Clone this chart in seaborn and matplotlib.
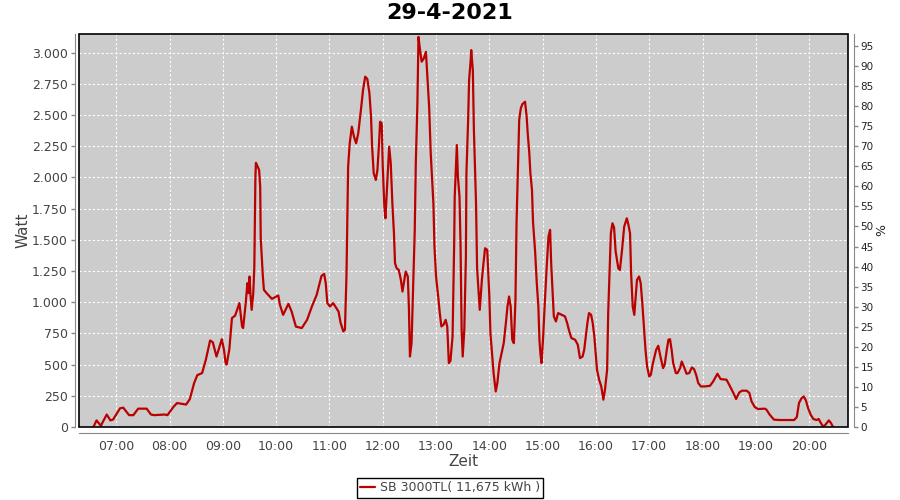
import pandas as pd
import matplotlib
matplotlib.use("Agg")
import matplotlib.pyplot as plt
import matplotlib.ticker as mticker
from matplotlib.patches import Rectangle
import seaborn as sns

# Zeit in Stunden (dezimal), Leistung in Watt
hours = [
    6.57, 6.63, 6.71, 6.82, 6.89, 6.94, 7.07, 7.13, 7.24, 7.32, 7.41, 7.57, 7.65, 7.71, 7.91, 7.96,
    8.07, 8.14, 8.31, 8.38, 8.46, 8.52, 8.61, 8.68, 8.76, 8.81, 8.88, 8.98, 9.02, 9.05, 9.07, 9.12,
    9.17, 9.23, 9.31, 9.36, 9.38, 9.43, 9.46, 9.48, 9.50, 9.52, 9.54, 9.57, 9.59, 9.61, 9.62, 9.65,
    9.68, 9.70, 9.71, 9.75, 9.77, 9.82, 9.92, 10.04, 10.07, 10.13, 10.23, 10.29, 10.37, 10.48, 10.58,
    10.67, 10.76, 10.85, 10.90, 10.93, 10.96, 11.01, 11.07, 11.17, 11.21, 11.26, 11.29, 11.32, 11.35,
    11.38, 11.42, 11.46, 11.50, 11.54, 11.59, 11.63, 11.67, 11.71, 11.75, 11.78, 11.80, 11.83, 11.87,
    11.90, 11.93, 11.95, 11.98, 12.00, 12.03, 12.05, 12.08, 12.12, 12.15, 12.18, 12.21, 12.23, 12.26,
    12.30, 12.34, 12.37, 12.43, 12.47, 12.49, 12.51, 12.54, 12.57, 12.60, 12.62, 12.65, 12.67, 12.70,
    12.73, 12.77, 12.81, 12.83, 12.87, 12.90, 12.95, 12.97, 13.00, 13.04, 13.07, 13.10, 13.14, 13.18,
    13.21, 13.24, 13.27, 13.31, 13.34, 13.35, 13.39, 13.41, 13.44, 13.46, 13.48, 13.50, 13.53, 13.56,
    13.57, 13.60, 13.62, 13.65, 13.66, 13.69, 13.71, 13.73, 13.75, 13.77, 13.80, 13.82, 13.86, 13.89,
    13.92, 13.96, 14.00, 14.02, 14.05, 14.08, 14.12, 14.15, 14.19, 14.23, 14.27, 14.31, 14.34, 14.37,
    14.40, 14.43, 14.46, 14.49, 14.51, 14.53, 14.56, 14.59, 14.62, 14.67, 14.70, 14.72, 14.75, 14.77,
    14.80, 14.82, 14.86, 14.89, 14.92, 14.94, 14.96, 14.98, 15.01, 15.04, 15.08, 15.11, 15.14, 15.16,
    15.19, 15.21, 15.25, 15.29, 15.36, 15.42, 15.46, 15.50, 15.54, 15.61, 15.66, 15.70, 15.75, 15.78,
    15.81, 15.84, 15.87, 15.91, 15.94, 15.97, 16.00, 16.02, 16.06, 16.10, 16.14, 16.17, 16.21, 16.23,
    16.26, 16.28, 16.31, 16.34, 16.37, 16.42, 16.45, 16.49, 16.53, 16.58, 16.61, 16.64, 16.66, 16.69,
    16.72, 16.75, 16.77, 16.81, 16.84, 16.87, 16.90, 16.93, 16.96, 17.00, 17.03, 17.07, 17.13, 17.17,
    17.21, 17.26, 17.29, 17.33, 17.36, 17.39, 17.42, 17.45, 17.50, 17.53, 17.58, 17.61, 17.65, 17.70,
    17.75, 17.80, 17.84, 17.88, 17.92, 17.97, 18.04, 18.14, 18.20, 18.28, 18.34, 18.45, 18.51, 18.58,
    18.63, 18.69, 18.74, 18.83, 18.88, 18.92, 18.98, 19.04, 19.17, 19.20, 19.26, 19.34, 19.45, 19.58,
    19.72, 19.77, 19.81, 19.86, 19.90, 19.94, 19.98, 20.03, 20.08, 20.14, 20.18, 20.22, 20.26, 20.30,
    20.37, 20.41, 20.45,
]
watts = [
    0, 53, 10, 100, 53, 60, 150, 155, 95, 95, 147, 147, 100, 95, 100, 95,
    160, 192, 180, 224, 352, 416, 432, 539, 693, 680, 565, 704, 619, 517, 500, 619,
    873, 893, 993, 806, 793, 1000, 1153, 1073, 1206, 1046, 939, 1073, 1286, 2000, 2118, 2090,
    2060, 1926, 1513, 1206, 1099, 1073, 1027, 1054, 980, 899, 987, 925, 805, 793, 859,
    966, 1059, 1211, 1227, 1153, 993, 966, 993, 925, 833, 766, 780, 1233, 2087,
    2274, 2407, 2327, 2274, 2354, 2541, 2701, 2808, 2790, 2674, 2487, 2247, 2034, 1980,
    2060, 2274, 2447, 2434, 2087, 1766, 1673, 1926, 2247, 2114, 1793, 1553, 1313, 1273,
    1259, 1179, 1086, 1246, 1206, 966, 565, 672, 1126, 1574, 2114, 2594, 3127, 3021,
    2928, 2954, 3007, 2861, 2567, 2194, 1793, 1446, 1206, 1046, 913, 806, 819, 859,
    806, 512, 530, 726, 1473, 1846, 2260, 2007, 1846, 1446, 779, 565, 779, 1366,
    2034, 2434, 2781, 2941, 3021, 2861, 2381, 2087, 1793, 1273, 1073, 939, 1179, 1313,
    1433, 1420, 1046, 753, 593, 432, 285, 352, 512, 593, 672, 833, 966, 1046,
    966, 699, 672, 1019, 1633, 1953, 2461, 2554, 2588, 2607, 2487, 2354, 2194, 2034,
    1900, 1640, 1400, 1153, 966, 699, 579, 512, 726, 993, 1313, 1526, 1580, 1313,
    1046, 886, 846, 913, 899, 886, 833, 766, 713, 699, 659, 552, 565, 619,
    726, 833, 913, 899, 833, 726, 565, 459, 379, 325, 219, 299, 459, 913,
    1313, 1553, 1633, 1600, 1406, 1273, 1259, 1420, 1606, 1673, 1620, 1553, 1233, 966,
    899, 1073, 1179, 1206, 1153, 993, 806, 619, 485, 405, 419, 512, 619, 651,
    565, 472, 499, 619, 699, 704, 619, 512, 432, 432, 472, 525, 485, 427,
    432, 477, 465, 419, 352, 325, 325, 330, 365, 427, 384, 379, 331, 272,
    224, 277, 291, 291, 272, 205, 160, 144, 147, 139, 99, 59, 56, 56,
    56, 80, 192, 232, 245, 213, 152, 99, 64, 56, 64, 32, 5, 15,
    53, 32, 0,
]

hour_ticks = list(range(7, 21))
watt_ticks = list(range(0, 3001, 250))
pct_ticks = list(range(0, 96, 5))
series_name = "SB 3000TL( 11,675 kWh )"

df = pd.DataFrame({"Zeit": hours, "Watt": watts})

sns.set_style("white")
plt.rcParams["font.family"] = ["DejaVu Sans"]

txt = "#444444"
axis_grey = "#888888"

fig = plt.figure(figsize=(9, 5), dpi=100)
ax = fig.add_axes([79 / 900, 1 - 427 / 500, (848 - 79) / 900, (427 - 34) / 500])
ax.set_facecolor("#cccccc")

sns.lineplot(data=df, x="Zeit", y="Watt", ax=ax, color="#bb0000",
             linewidth=1.6, estimator=None, label=series_name)
handles, labels = ax.get_legend_handles_labels()
ax.get_legend().remove()

ax.set_xlim(6.30, 20.73)
ax.set_ylim(0, 3150)
ax.set_xticks(hour_ticks)
ax.set_yticks(watt_ticks)
ax.xaxis.set_major_formatter(mticker.FuncFormatter(lambda v, p: f"{int(v):02d}:00"))
ax.yaxis.set_major_formatter(mticker.FuncFormatter(lambda v, p: f"{int(v):,}".replace(",", ".")))
ax.grid(True, color="white", linestyle=(0, (2, 2)), linewidth=0.8)
ax.set_axisbelow(True)

# Rahmen + abgesetzte Achsenlinien wie im Original
for s in ["top", "right"]:
    ax.spines[s].set_visible(False)
ax.spines["left"].set_position(("outward", 3))
ax.spines["bottom"].set_position(("outward", 4))
for s in ["left", "bottom"]:
    ax.spines[s].set_color(axis_grey)
ax.add_patch(Rectangle((0, 0), 1, 1, transform=ax.transAxes, fill=False,
                       edgecolor="black", linewidth=1.2, clip_on=False, zorder=5))
ax.tick_params(axis="both", which="major", length=3, width=1, color=axis_grey,
               labelcolor=txt, labelsize=9, pad=2)

ax.set_xlabel("Zeit", fontsize=11, color=txt, labelpad=1)
ax.set_ylabel("Watt", fontsize=11, color=txt, labelpad=1)

ax2 = ax.twinx()
ax2.set_ylim(0, 98)
ax2.set_yticks(pct_ticks)
for s in ["top", "left", "bottom"]:
    ax2.spines[s].set_visible(False)
ax2.spines["right"].set_position(("outward", 4))
ax2.spines["right"].set_color(axis_grey)
ax2.tick_params(axis="y", length=3, width=1, color=axis_grey, labelcolor="#222222",
                labelsize=7.5, pad=2)
ax2.set_ylabel("%", fontsize=9, color="#222222", labelpad=1)

fig.text(0.5, 1 - 13 / 500, "29-4-2021", ha="center", va="center",
         fontsize=16, fontweight="bold", color="black")

fig.legend(handles, labels, loc="center", bbox_to_anchor=(0.5, 1 - 488 / 500),
           frameon=True, fancybox=False, edgecolor="black", framealpha=1,
           fontsize=9, handlelength=1.2, handletextpad=0.4, borderpad=0.25,
           labelcolor=txt)

fig.savefig("out.png", dpi=100)
